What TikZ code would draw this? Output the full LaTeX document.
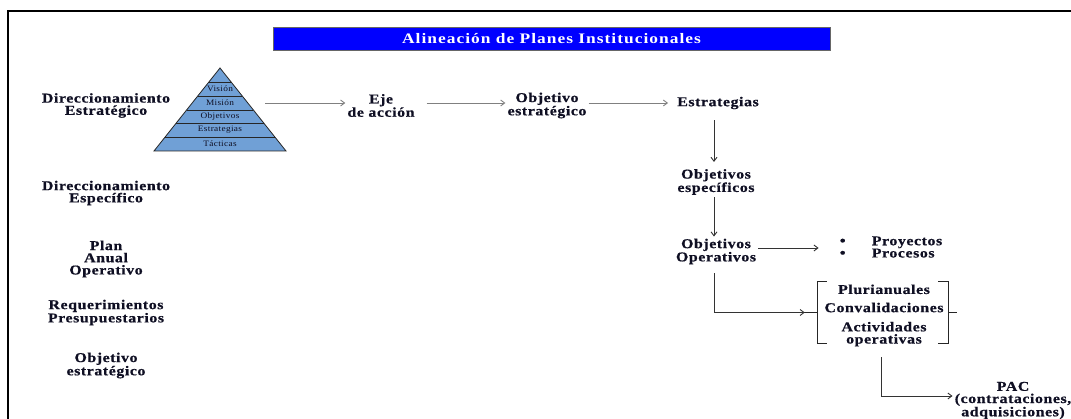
\documentclass[tikz,border=0pt]{standalone}
\usepackage{fontspec}
\setmainfont{Liberation Serif}
\newfontfamily\lblfont{Liberation Serif}[FakeStretch=1.18, LetterSpace=4, FakeBold=0.6]
\newfontfamily\ttlfont{Liberation Serif}[FakeStretch=1.2, LetterSpace=7]
\newfontfamily\pyrfont{Liberation Serif}[FakeStretch=1.12, LetterSpace=4]
\usetikzlibrary{arrows.meta}
\definecolor{pyrblue}{RGB}{112,160,214}
\definecolor{txt}{RGB}{15,15,35}
\definecolor{ttlblue}{RGB}{0,0,255}
\newcommand{\bigbul}{\makebox[32pt][l]{\fontsize{14}{12}\selectfont\textbullet}}
\begin{document}
\begin{tikzpicture}[x=1pt,y=-1pt,
  lbl/.style={font={\lblfont\bfseries\fontsize{13.5}{12.2}\selectfont}, text=txt, align=center, inner xsep=2pt, inner ysep=2pt},
  pyrtxt/.style={font={\pyrfont\fontsize{8.3}{8}\selectfont}, text=txt, inner sep=0pt},
  garr/.style={draw=black!50, line width=0.9pt, -{Straight Barb[length=4pt,width=6pt]}},
  darr/.style={draw=black!80, line width=0.9pt, -{Straight Barb[length=4pt,width=6pt]}},
  brline/.style={draw=black!85, line width=0.9pt}]
\useasboundingbox (0,0) rectangle (1071,419);
\clip (0,0) rectangle (1071,419);
% frame
\draw[line width=2.5pt] (1075,11) -- (8,11) -- (8,425);
% title
\node[draw=black!60, line width=0.8pt, fill=ttlblue, minimum width=557pt, minimum height=23pt, inner sep=0pt,
      text=white, font={\ttlfont\bfseries\fontsize{14.5}{14}\selectfont}] (title) at (551.5,39) {Alineación de Planes Institucionales};
% pyramid
\fill[pyrblue] (220,68) -- (286,151) -- (154,151) -- cycle;
\draw[black!85, line width=0.8pt] (220,68) -- (286,151) -- (154,151) -- cycle;
\draw[black!85, line width=0.7pt]
  (208.9,82) -- (231.1,82)
  (197.7,96) -- (242.3,96)
  (186.6,110) -- (253.4,110)
  (176.3,123) -- (263.7,123)
  (165.1,137) -- (274.9,137);
\node[pyrtxt] (pv) at (220,89) {Visión};
\node[pyrtxt] (pm) at (220,103) {Misión};
\node[pyrtxt] (po) at (220,116.5) {Objetivos};
\node[pyrtxt] (pe) at (220,130) {Estrategias};
\node[pyrtxt] (pt) at (220,144) {Tácticas};
\coordinate (pyrR) at (265,103);
% left labels
\node[lbl] (de) at (106,105.5) {Direccionamiento\\Estratégico};
\node[lbl] (des) at (106,193) {Direccionamiento\\Específico};
\node[lbl] (pao) at (106,259) {Plan\\Anual\\Operativo};
\node[lbl] (rp) at (106,312.5) {Requerimientos\\Presupuestarios};
\node[lbl] (oe2) at (106,365.5) {Objetivo\\estratégico};
% top row
\node[lbl] (eje) at (381,105.5) {Eje\\de acción};
\node[lbl] (obj) at (547,105.5) {Objetivo\\estratégico};
\node[lbl] (estr) at (718,103) {Estrategias};
\node[lbl] (oesp) at (716,182) {Objetivos\\específicos};
\node[lbl] (oop) at (716,251.5) {Objetivos\\Operativos};
\node[lbl, align=left] (proy) at (891,247) {\bigbul Proyectos\\\bigbul Procesos};
% bracket group
\node[minimum width=130pt, minimum height=61pt, inner sep=0pt] (brk) at (883,312.5) {};
\node[lbl] (brktxt) at (884,315.5) {Plurianuales\\[6pt]Convalidaciones\\[7pt]Actividades\\operativas};
\draw[brline] ([xshift=9pt]brk.north west) -- (brk.north west) -- (brk.south west) -- ++(9pt,0);
\draw[brline] ([xshift=-10pt]brk.north east) -- (brk.north east) -- (brk.south east) -- ++(-10pt,0);
\draw[brline] (brk.west) -- ++(-20pt,0);
\draw[brline] (brk.east) -- ++(9pt,0);
\node[lbl] (pac) at (1013,400.5) {PAC\\(contrataciones,\\adquisiciones)};
% connectors
\draw[garr] (pyrR) -- (pyrR -| eje.west);
\draw[garr, shorten <=10pt] (eje.east |- pyrR) -- (obj.west |- pyrR);
\draw[garr, shorten >=7pt] (obj.east |- pyrR) -- (estr.west |- pyrR);
\draw[darr, shorten <=9pt, shorten >=5pt] ([xshift=-4pt]estr.south) -- ([xshift=-4pt]estr.south |- oesp.north);
\draw[darr] ([xshift=-2pt]oesp.south) -- ([xshift=-2pt]oesp.south |- oop.north);
\draw[darr, shorten >=19pt] ([yshift=3.5pt]oop.east) -- ([yshift=3.5pt]oop.east -| proy.west);
\draw[darr, shorten <=7pt, shorten >=13pt] ([xshift=-2pt]oop.south) |- (brk.west);
\draw[darr, shorten <=14pt] ([xshift=-2pt]brk.south) |- ([yshift=4.5pt]pac.west);
\end{tikzpicture}
\end{document}
